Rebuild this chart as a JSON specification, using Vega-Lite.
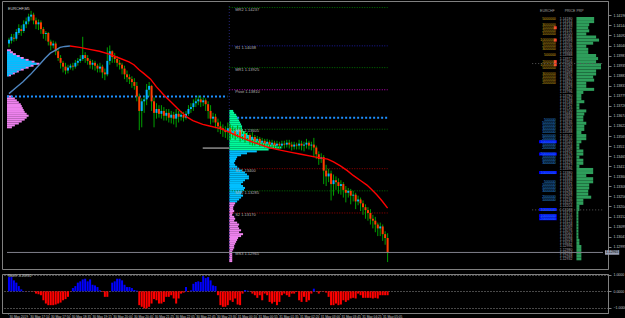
{
"$schema":"https://vega.github.io/schema/vega-lite/v6.json",
"background":"#000000",
"padding":{"left":1,"top":0,"right":0,"bottom":0},
"spacing":2,
"config":{"font":"Liberation Sans","view":{"stroke":"#808080","strokeWidth":1},"axis":{"labelFont":"Liberation Sans","labelFontSize":3.5,"labelColor":"#c8c8c8","domainColor":"#808080","tickColor":"#808080","tickSize":3,"labelPadding":2,"labelOverlap":false,"labelFlush":false,"grid":false}},
"datasets":{
"k":[
{"i":0,"o":1.1405,"h":1.1408,"l":1.1403,"c":1.1407},
{"i":1,"o":1.14065,"h":1.141,"l":1.1405,"c":1.14085},
{"i":2,"o":1.1408,"h":1.141,"l":1.1406,"c":1.14075},
{"i":3,"o":1.14075,"h":1.14125,"l":1.14065,"c":1.1411},
{"i":4,"o":1.14105,"h":1.1415,"l":1.14095,"c":1.1413},
{"i":5,"o":1.14125,"h":1.14145,"l":1.1409,"c":1.14115},
{"i":6,"o":1.14115,"h":1.1417,"l":1.14105,"c":1.1415},
{"i":7,"o":1.1415,"h":1.14185,"l":1.1413,"c":1.14165},
{"i":8,"o":1.14165,"h":1.14205,"l":1.1415,"c":1.1419},
{"i":9,"o":1.1419,"h":1.1422,"l":1.1417,"c":1.142},
{"i":10,"o":1.142,"h":1.1421,"l":1.1415,"c":1.1417},
{"i":11,"o":1.1417,"h":1.14185,"l":1.14125,"c":1.1415},
{"i":12,"o":1.1415,"h":1.14175,"l":1.1412,"c":1.1416},
{"i":13,"o":1.1416,"h":1.1417,"l":1.141,"c":1.14125},
{"i":14,"o":1.14125,"h":1.14135,"l":1.14075,"c":1.141},
{"i":15,"o":1.141,"h":1.14115,"l":1.14065,"c":1.14105},
{"i":16,"o":1.14105,"h":1.1411,"l":1.1404,"c":1.1406},
{"i":17,"o":1.1406,"h":1.1407,"l":1.14015,"c":1.1404},
{"i":18,"o":1.1404,"h":1.14065,"l":1.14025,"c":1.1405},
{"i":19,"o":1.1405,"h":1.1406,"l":1.1399,"c":1.1401},
{"i":20,"o":1.1401,"h":1.14025,"l":1.1396,"c":1.13975},
{"i":21,"o":1.13975,"h":1.1399,"l":1.1392,"c":1.1395},
{"i":22,"o":1.1395,"h":1.1396,"l":1.139,"c":1.1393},
{"i":23,"o":1.1393,"h":1.1395,"l":1.1389,"c":1.1391},
{"i":24,"o":1.1391,"h":1.1394,"l":1.13895,"c":1.13925},
{"i":25,"o":1.13925,"h":1.13945,"l":1.13915,"c":1.13935},
{"i":26,"o":1.13935,"h":1.1395,"l":1.1391,"c":1.1393},
{"i":27,"o":1.1393,"h":1.13965,"l":1.1392,"c":1.1395},
{"i":28,"o":1.1395,"h":1.13975,"l":1.13935,"c":1.1396},
{"i":29,"o":1.1396,"h":1.1399,"l":1.1395,"c":1.1397},
{"i":30,"o":1.1397,"h":1.14085,"l":1.1396,"c":1.1399},
{"i":31,"o":1.1399,"h":1.14005,"l":1.1395,"c":1.13975},
{"i":32,"o":1.13975,"h":1.1399,"l":1.1394,"c":1.1396},
{"i":33,"o":1.1396,"h":1.1397,"l":1.1392,"c":1.1394},
{"i":34,"o":1.1394,"h":1.13965,"l":1.13915,"c":1.1395},
{"i":35,"o":1.1395,"h":1.1396,"l":1.1391,"c":1.13935},
{"i":36,"o":1.13935,"h":1.13945,"l":1.139,"c":1.1392},
{"i":37,"o":1.1392,"h":1.1395,"l":1.139,"c":1.1393},
{"i":38,"o":1.1393,"h":1.1394,"l":1.1387,"c":1.139},
{"i":39,"o":1.139,"h":1.1392,"l":1.1386,"c":1.1389},
{"i":40,"o":1.1389,"h":1.1403,"l":1.1388,"c":1.1396},
{"i":41,"o":1.1396,"h":1.1404,"l":1.1394,"c":1.1401},
{"i":42,"o":1.1401,"h":1.14015,"l":1.1395,"c":1.1398},
{"i":43,"o":1.1398,"h":1.14,"l":1.1395,"c":1.1397},
{"i":44,"o":1.1397,"h":1.13985,"l":1.1393,"c":1.1395},
{"i":45,"o":1.1395,"h":1.13965,"l":1.13915,"c":1.1394},
{"i":46,"o":1.1394,"h":1.1395,"l":1.1389,"c":1.1392},
{"i":47,"o":1.1392,"h":1.13935,"l":1.13865,"c":1.1389},
{"i":48,"o":1.1389,"h":1.1391,"l":1.1385,"c":1.13875},
{"i":49,"o":1.13875,"h":1.1389,"l":1.1384,"c":1.13865},
{"i":50,"o":1.13865,"h":1.1388,"l":1.1382,"c":1.1385},
{"i":51,"o":1.1385,"h":1.1387,"l":1.1381,"c":1.1383},
{"i":52,"o":1.1383,"h":1.1385,"l":1.1375,"c":1.13775},
{"i":53,"o":1.13775,"h":1.1379,"l":1.136,"c":1.137},
{"i":54,"o":1.137,"h":1.13765,"l":1.13615,"c":1.1375},
{"i":55,"o":1.1375,"h":1.13775,"l":1.1369,"c":1.1376},
{"i":56,"o":1.1376,"h":1.1384,"l":1.1373,"c":1.1381},
{"i":57,"o":1.1381,"h":1.1385,"l":1.13775,"c":1.1383},
{"i":58,"o":1.1383,"h":1.13835,"l":1.137,"c":1.1375},
{"i":59,"o":1.1375,"h":1.1377,"l":1.13615,"c":1.1369},
{"i":60,"o":1.1369,"h":1.1374,"l":1.1366,"c":1.1371},
{"i":61,"o":1.1371,"h":1.1373,"l":1.13665,"c":1.13685},
{"i":62,"o":1.13685,"h":1.1373,"l":1.1366,"c":1.137},
{"i":63,"o":1.137,"h":1.1372,"l":1.1365,"c":1.13675},
{"i":64,"o":1.13675,"h":1.1371,"l":1.1365,"c":1.1369},
{"i":65,"o":1.1369,"h":1.1371,"l":1.1364,"c":1.13665},
{"i":66,"o":1.13665,"h":1.137,"l":1.13635,"c":1.1368},
{"i":67,"o":1.1368,"h":1.13695,"l":1.1363,"c":1.1366},
{"i":68,"o":1.1366,"h":1.1371,"l":1.13615,"c":1.13685},
{"i":69,"o":1.13685,"h":1.137,"l":1.1364,"c":1.1367},
{"i":70,"o":1.1367,"h":1.137,"l":1.1365,"c":1.1368},
{"i":71,"o":1.1368,"h":1.13695,"l":1.13645,"c":1.13665},
{"i":72,"o":1.13665,"h":1.137,"l":1.13655,"c":1.13685},
{"i":73,"o":1.13685,"h":1.1373,"l":1.13675,"c":1.1371},
{"i":74,"o":1.1371,"h":1.1374,"l":1.1369,"c":1.1372},
{"i":75,"o":1.1372,"h":1.1376,"l":1.137,"c":1.1374},
{"i":76,"o":1.1374,"h":1.1377,"l":1.1372,"c":1.1375},
{"i":77,"o":1.1375,"h":1.1378,"l":1.1373,"c":1.1376},
{"i":78,"o":1.1376,"h":1.13775,"l":1.1372,"c":1.13745},
{"i":79,"o":1.13745,"h":1.1377,"l":1.13725,"c":1.13755},
{"i":80,"o":1.13755,"h":1.13765,"l":1.137,"c":1.13735},
{"i":81,"o":1.13735,"h":1.1375,"l":1.1366,"c":1.137},
{"i":82,"o":1.137,"h":1.1373,"l":1.1363,"c":1.1366},
{"i":83,"o":1.1366,"h":1.1369,"l":1.1364,"c":1.1367},
{"i":84,"o":1.1367,"h":1.13685,"l":1.1361,"c":1.1364},
{"i":85,"o":1.1364,"h":1.1366,"l":1.1359,"c":1.1362},
{"i":86,"o":1.1362,"h":1.13645,"l":1.1358,"c":1.1361},
{"i":87,"o":1.1361,"h":1.1363,"l":1.13565,"c":1.136},
{"i":88,"o":1.136,"h":1.1362,"l":1.1356,"c":1.1359},
{"i":89,"o":1.1359,"h":1.1364,"l":1.1355,"c":1.1361},
{"i":90,"o":1.1361,"h":1.1363,"l":1.1355,"c":1.13585},
{"i":91,"o":1.13585,"h":1.1362,"l":1.1356,"c":1.13595},
{"i":92,"o":1.13595,"h":1.1361,"l":1.1355,"c":1.1358},
{"i":93,"o":1.1358,"h":1.13625,"l":1.1356,"c":1.136},
{"i":94,"o":1.136,"h":1.13615,"l":1.1354,"c":1.1357},
{"i":95,"o":1.1357,"h":1.136,"l":1.1355,"c":1.1358},
{"i":96,"o":1.1358,"h":1.13595,"l":1.13535,"c":1.1356},
{"i":97,"o":1.1356,"h":1.1359,"l":1.13545,"c":1.13575},
{"i":98,"o":1.13575,"h":1.13585,"l":1.13525,"c":1.1355},
{"i":99,"o":1.1355,"h":1.1359,"l":1.1352,"c":1.13565},
{"i":100,"o":1.13565,"h":1.13575,"l":1.1352,"c":1.13545},
{"i":101,"o":1.13545,"h":1.1357,"l":1.1353,"c":1.13555},
{"i":102,"o":1.13555,"h":1.13565,"l":1.13515,"c":1.13535},
{"i":103,"o":1.13535,"h":1.1356,"l":1.1352,"c":1.13545},
{"i":104,"o":1.13545,"h":1.13555,"l":1.1351,"c":1.1353},
{"i":105,"o":1.1353,"h":1.13555,"l":1.13515,"c":1.1354},
{"i":106,"o":1.1354,"h":1.1355,"l":1.1351,"c":1.13525},
{"i":107,"o":1.13525,"h":1.1355,"l":1.1351,"c":1.13535},
{"i":108,"o":1.13535,"h":1.13545,"l":1.13505,"c":1.1352},
{"i":109,"o":1.1352,"h":1.13545,"l":1.13505,"c":1.1353},
{"i":110,"o":1.1353,"h":1.1354,"l":1.135,"c":1.1352},
{"i":111,"o":1.1352,"h":1.13545,"l":1.13505,"c":1.1353},
{"i":112,"o":1.1353,"h":1.13545,"l":1.13505,"c":1.13525},
{"i":113,"o":1.13525,"h":1.1355,"l":1.1351,"c":1.13535},
{"i":114,"o":1.13535,"h":1.1355,"l":1.13505,"c":1.13525},
{"i":115,"o":1.13525,"h":1.1354,"l":1.13495,"c":1.13515},
{"i":116,"o":1.13515,"h":1.1354,"l":1.135,"c":1.13525},
{"i":117,"o":1.13525,"h":1.13535,"l":1.135,"c":1.1352},
{"i":118,"o":1.1352,"h":1.1355,"l":1.135,"c":1.1353},
{"i":119,"o":1.1353,"h":1.13545,"l":1.13495,"c":1.1352},
{"i":120,"o":1.1352,"h":1.1354,"l":1.1349,"c":1.13525},
{"i":121,"o":1.13525,"h":1.13555,"l":1.13505,"c":1.13535},
{"i":122,"o":1.13535,"h":1.13545,"l":1.135,"c":1.1352},
{"i":123,"o":1.1352,"h":1.1354,"l":1.13495,"c":1.13525},
{"i":124,"o":1.13525,"h":1.1356,"l":1.1346,"c":1.1351},
{"i":125,"o":1.1351,"h":1.1352,"l":1.1345,"c":1.13475},
{"i":126,"o":1.13475,"h":1.1349,"l":1.1342,"c":1.1345},
{"i":127,"o":1.1345,"h":1.1348,"l":1.1343,"c":1.1346},
{"i":128,"o":1.1346,"h":1.1347,"l":1.1332,"c":1.1339},
{"i":129,"o":1.1339,"h":1.1342,"l":1.1331,"c":1.1336},
{"i":130,"o":1.1336,"h":1.134,"l":1.1333,"c":1.13375},
{"i":131,"o":1.13375,"h":1.1339,"l":1.13235,"c":1.1332},
{"i":132,"o":1.1332,"h":1.1337,"l":1.1326,"c":1.1334},
{"i":133,"o":1.1334,"h":1.1336,"l":1.1329,"c":1.1333},
{"i":134,"o":1.1333,"h":1.1335,"l":1.1327,"c":1.1331},
{"i":135,"o":1.1331,"h":1.1334,"l":1.13265,"c":1.1332},
{"i":136,"o":1.1332,"h":1.1333,"l":1.1325,"c":1.1329},
{"i":137,"o":1.1329,"h":1.1331,"l":1.13225,"c":1.13275},
{"i":138,"o":1.13275,"h":1.133,"l":1.1325,"c":1.13285},
{"i":139,"o":1.13285,"h":1.13295,"l":1.13215,"c":1.1326},
{"i":140,"o":1.1326,"h":1.13285,"l":1.1323,"c":1.13265},
{"i":141,"o":1.13265,"h":1.13275,"l":1.1319,"c":1.1323},
{"i":142,"o":1.1323,"h":1.1326,"l":1.1321,"c":1.1324},
{"i":143,"o":1.1324,"h":1.1325,"l":1.1318,"c":1.1322},
{"i":144,"o":1.1322,"h":1.13235,"l":1.1316,"c":1.132},
{"i":145,"o":1.132,"h":1.13215,"l":1.1314,"c":1.13185},
{"i":146,"o":1.13185,"h":1.132,"l":1.1313,"c":1.1317},
{"i":147,"o":1.1317,"h":1.1319,"l":1.1311,"c":1.1314},
{"i":148,"o":1.1314,"h":1.1316,"l":1.1309,"c":1.1313},
{"i":149,"o":1.1313,"h":1.1315,"l":1.1307,"c":1.1311},
{"i":150,"o":1.1311,"h":1.1312,"l":1.1305,"c":1.1309},
{"i":151,"o":1.1309,"h":1.1312,"l":1.1305,"c":1.131},
{"i":152,"o":1.131,"h":1.1311,"l":1.13025,"c":1.1306},
{"i":153,"o":1.1306,"h":1.13075,"l":1.13005,"c":1.1304},
{"i":154,"o":1.1304,"h":1.13065,"l":1.12915,"c":1.12965}
],
"h":[
{"i":0,"v":0.87},{"i":1,"v":0.87},{"i":2,"v":0.67},{"i":3,"v":0.53},{"i":4,"v":0.32},{"i":5,"v":0.12},{"i":6,"v":0.02},{"i":7,"v":-0.01},{"i":8,"v":0.01},{"i":9,"v":-0.01},
{"i":10,"v":-0.02},{"i":11,"v":-0.14},{"i":12,"v":-0.18},{"i":13,"v":-0.24},{"i":14,"v":-0.55},{"i":15,"v":-0.75},{"i":16,"v":-0.85},{"i":17,"v":-0.85},{"i":18,"v":-0.85},{"i":19,"v":-0.81},
{"i":20,"v":-0.75},{"i":21,"v":-0.69},{"i":22,"v":-0.55},{"i":23,"v":-0.48},{"i":24,"v":-0.34},{"i":25,"v":-0.02},{"i":26,"v":0.2},{"i":27,"v":0.32},{"i":28,"v":0.53},{"i":29,"v":0.61},
{"i":30,"v":0.73},{"i":31,"v":0.77},{"i":32,"v":0.61},{"i":33,"v":0.73},{"i":34,"v":0.4},{"i":35,"v":0.36},{"i":36,"v":0.26},{"i":37,"v":0.06},{"i":38,"v":-0.04},{"i":39,"v":-0.34},
{"i":40,"v":-0.34},{"i":41,"v":0.0},{"i":42,"v":0.53},{"i":43,"v":0.61},{"i":44,"v":0.77},{"i":45,"v":0.77},{"i":46,"v":0.67},{"i":47,"v":0.4},{"i":48,"v":0.26},{"i":49,"v":0.26},
{"i":50,"v":0.2},{"i":51,"v":0.08},{"i":52,"v":0.04},{"i":53,"v":-0.85},{"i":54,"v":-0.95},{"i":55,"v":-1.05},{"i":56,"v":-1.05},{"i":57,"v":-0.95},{"i":58,"v":-0.75},{"i":59,"v":-0.48},
{"i":60,"v":-0.55},{"i":61,"v":-0.75},{"i":62,"v":-0.75},{"i":63,"v":-0.65},{"i":64,"v":-0.34},{"i":65,"v":-0.34},{"i":66,"v":-0.24},{"i":67,"v":-0.44},{"i":68,"v":-0.75},{"i":69,"v":-0.44},
{"i":70,"v":-0.14},{"i":71,"v":-0.08},{"i":72,"v":0.26},{"i":73,"v":-0.04},{"i":74,"v":0.06},{"i":75,"v":0.46},{"i":76,"v":0.57},{"i":77,"v":0.61},{"i":78,"v":0.57},{"i":79,"v":0.93},
{"i":80,"v":0.81},{"i":81,"v":0.87},{"i":82,"v":0.67},{"i":83,"v":0.36},{"i":84,"v":0.32},{"i":85,"v":-0.24},{"i":86,"v":-0.85},{"i":87,"v":-0.95},{"i":88,"v":-0.95},{"i":89,"v":-0.85},
{"i":90,"v":-0.55},{"i":91,"v":-0.65},{"i":92,"v":-0.44},{"i":93,"v":-0.81},{"i":94,"v":-0.85},{"i":95,"v":-0.14},{"i":96,"v":0.08},{"i":97,"v":0.04},{"i":98,"v":-0.02},{"i":99,"v":-0.14},
{"i":100,"v":-0.24},{"i":101,"v":-0.4},{"i":102,"v":-0.24},{"i":103,"v":-0.55},{"i":104,"v":-0.14},{"i":105,"v":-0.24},{"i":106,"v":-0.65},{"i":107,"v":-0.75},{"i":108,"v":-0.65},{"i":109,"v":-0.85},
{"i":110,"v":-0.65},{"i":111,"v":-0.24},{"i":112,"v":-0.14},{"i":113,"v":-0.24},{"i":114,"v":-0.34},{"i":115,"v":-0.14},{"i":116,"v":-0.14},{"i":117,"v":-0.04},{"i":118,"v":-0.55},{"i":119,"v":-0.65},
{"i":120,"v":-0.34},{"i":121,"v":-0.65},{"i":122,"v":-0.55},{"i":123,"v":-0.14},{"i":124,"v":0.16},{"i":125,"v":-0.02},{"i":126,"v":-0.14},{"i":127,"v":-0.02},{"i":128,"v":-0.02},{"i":129,"v":-0.08},
{"i":130,"v":-0.34},{"i":131,"v":-0.85},{"i":132,"v":-0.85},{"i":133,"v":-0.75},{"i":134,"v":-0.85},{"i":135,"v":-0.81},{"i":136,"v":-0.55},{"i":137,"v":-0.65},{"i":138,"v":-0.55},{"i":139,"v":-0.44},
{"i":140,"v":-0.4},{"i":141,"v":-0.44},{"i":142,"v":-0.14},{"i":143,"v":-0.24},{"i":144,"v":-0.4},{"i":145,"v":-0.4},{"i":146,"v":-0.4},{"i":147,"v":-0.4},{"i":148,"v":-0.44},{"i":149,"v":-0.4},
{"i":150,"v":-0.44},{"i":151,"v":-0.24},{"i":152,"v":-0.24},{"i":153,"v":-0.24},{"i":154,"v":-0.24}
],
"ma":[
{"s":"u","i":0,"m":1.1379},{"s":"u","i":2.8,"m":1.1382},{"s":"u","i":5.6,"m":1.1385},{"s":"u","i":8.8,"m":1.1389},{"s":"u","i":12,"m":1.13935},{"s":"u","i":14.8,"m":1.13975},{"s":"u","i":16.8,"m":1.14},{"s":"u","i":18.8,"m":1.14015},{"s":"u","i":20.8,"m":1.1403},{"s":"u","i":22.8,"m":1.14035},{"s":"u","i":24.8,"m":1.14037},
{"s":"d","i":24.8,"m":1.14037},{"s":"d","i":28.8,"m":1.1403},{"s":"d","i":32.8,"m":1.1402},{"s":"d","i":36.8,"m":1.1401},{"s":"d","i":40.8,"m":1.13995},{"s":"d","i":44.8,"m":1.13975},{"s":"d","i":48.8,"m":1.13955},{"s":"d","i":50.8,"m":1.1394},{"s":"d","i":52.8,"m":1.13915},{"s":"d","i":54.8,"m":1.13895},{"s":"d","i":57.6,"m":1.13865},{"s":"d","i":60,"m":1.13825},{"s":"d","i":62.8,"m":1.13785},{"s":"d","i":65.6,"m":1.1375},{"s":"d","i":69.6,"m":1.137},{"s":"d","i":72.8,"m":1.13665},{"s":"d","i":74.8,"m":1.1365},{"s":"d","i":78.8,"m":1.1363},{"s":"d","i":81.6,"m":1.13622},{"s":"d","i":84.8,"m":1.13612},{"s":"d","i":86.8,"m":1.13605},{"s":"d","i":89.6,"m":1.1359},{"s":"d","i":92,"m":1.13575},{"s":"d","i":94.8,"m":1.1356},{"s":"d","i":98.8,"m":1.1354},{"s":"d","i":102.8,"m":1.13522},{"s":"d","i":105.6,"m":1.1351},{"s":"d","i":110.8,"m":1.13495},{"s":"d","i":114.8,"m":1.13485},{"s":"d","i":118.8,"m":1.13475},{"s":"d","i":124.8,"m":1.1346},{"s":"d","i":129.6,"m":1.1345},{"s":"d","i":132,"m":1.13435},{"s":"d","i":134.8,"m":1.13415},{"s":"d","i":137.6,"m":1.1339},{"s":"d","i":140,"m":1.13365},{"s":"d","i":142.8,"m":1.1334},{"s":"d","i":145.6,"m":1.13315},{"s":"d","i":147.6,"m":1.1329},{"s":"d","i":149.6,"m":1.13265},{"s":"d","i":151.6,"m":1.13235},{"s":"d","i":154,"m":1.13195}
],
"pf":[
{"g":"L","c":"pink","p":1.14015,"v":1.6},{"g":"L","c":"pink","p":1.14005,"v":2.4},{"g":"L","c":"pink","p":1.13995,"v":3.6},{"g":"L","c":"pink","p":1.13985,"v":5.2},{"g":"L","c":"pink","p":1.13975,"v":6.8},{"g":"L","c":"pink","p":1.13965,"v":8.8},{"g":"L","c":"pink","p":1.13955,"v":11.2},{"g":"L","c":"pink","p":1.13945,"v":13.2},{"g":"L","c":"pink","p":1.13935,"v":10.8},{"g":"L","c":"pink","p":1.13925,"v":8.8},{"g":"L","c":"pink","p":1.13915,"v":6.8},{"g":"L","c":"pink","p":1.13905,"v":4.8},{"g":"L","c":"pink","p":1.13895,"v":3.2},{"g":"L","c":"pink","p":1.13885,"v":1.6},
{"g":"L","c":"pink","p":1.13775,"v":2},{"g":"L","c":"pink","p":1.13765,"v":3.2},{"g":"L","c":"pink","p":1.13755,"v":4},{"g":"L","c":"pink","p":1.13745,"v":4.8},{"g":"L","c":"pink","p":1.13735,"v":5.6},{"g":"L","c":"pink","p":1.13725,"v":6},{"g":"L","c":"pink","p":1.13715,"v":6.4},{"g":"L","c":"pink","p":1.13705,"v":6.8},{"g":"L","c":"pink","p":1.13695,"v":7.2},{"g":"L","c":"pink","p":1.13685,"v":8},{"g":"L","c":"pink","p":1.13675,"v":8.8},{"g":"L","c":"pink","p":1.13665,"v":8},{"g":"L","c":"pink","p":1.13655,"v":7.2},{"g":"L","c":"pink","p":1.13645,"v":6},{"g":"L","c":"pink","p":1.13635,"v":4.8},{"g":"L","c":"pink","p":1.13625,"v":3.2},{"g":"L","c":"pink","p":1.13615,"v":2},
{"g":"L","c":"cyan","p":1.14005,"v":1.2},{"g":"L","c":"cyan","p":1.13995,"v":2.4},{"g":"L","c":"cyan","p":1.13985,"v":4},{"g":"L","c":"cyan","p":1.13975,"v":5.6},{"g":"L","c":"cyan","p":1.13965,"v":7.6},{"g":"L","c":"cyan","p":1.13955,"v":10},{"g":"L","c":"cyan","p":1.13945,"v":12},{"g":"L","c":"cyan","p":1.13935,"v":9.6},{"g":"L","c":"cyan","p":1.13925,"v":7.6},{"g":"L","c":"cyan","p":1.13915,"v":5.6},{"g":"L","c":"cyan","p":1.13905,"v":4},{"g":"L","c":"cyan","p":1.13895,"v":2.4},{"g":"L","c":"cyan","p":1.13885,"v":0.8},
{"g":"M","c":"green","p":1.137,"v":1.6},{"g":"M","c":"green","p":1.1369,"v":2},{"g":"M","c":"green","p":1.1368,"v":2.8},{"g":"M","c":"green","p":1.1367,"v":3.2},{"g":"M","c":"green","p":1.1366,"v":3.6},{"g":"M","c":"green","p":1.1365,"v":4},{"g":"M","c":"green","p":1.1364,"v":4.4},{"g":"M","c":"green","p":1.1363,"v":4.8},{"g":"M","c":"green","p":1.1362,"v":5.2},{"g":"M","c":"green","p":1.1361,"v":5.2},{"g":"M","c":"green","p":1.136,"v":5.6},{"g":"M","c":"green","p":1.1359,"v":6.4},{"g":"M","c":"green","p":1.1358,"v":7.2},{"g":"M","c":"green","p":1.1357,"v":8},{"g":"M","c":"green","p":1.1356,"v":9.6},{"g":"M","c":"green","p":1.1355,"v":11.2},{"g":"M","c":"green","p":1.1354,"v":13.2},{"g":"M","c":"green","p":1.1353,"v":16},{"g":"M","c":"green","p":1.1352,"v":19.2},{"g":"M","c":"green","p":1.1351,"v":21.2},{"g":"M","c":"green","p":1.135,"v":16},
{"g":"M","c":"cyan","p":1.1349,"v":11.2},{"g":"M","c":"cyan","p":1.1348,"v":7.2},{"g":"M","c":"cyan","p":1.1347,"v":4.8},{"g":"M","c":"cyan","p":1.1346,"v":3.2},{"g":"M","c":"cyan","p":1.1345,"v":2.8},{"g":"M","c":"cyan","p":1.1344,"v":2.4},{"g":"M","c":"cyan","p":1.1343,"v":2},{"g":"M","c":"cyan","p":1.1342,"v":2.4},{"g":"M","c":"cyan","p":1.1341,"v":3.2},{"g":"M","c":"cyan","p":1.134,"v":4},{"g":"M","c":"cyan","p":1.1339,"v":5.2},{"g":"M","c":"cyan","p":1.1338,"v":6.4},{"g":"M","c":"cyan","p":1.1337,"v":7.2},{"g":"M","c":"cyan","p":1.1336,"v":8},{"g":"M","c":"cyan","p":1.1335,"v":8},{"g":"M","c":"cyan","p":1.1334,"v":6.4},{"g":"M","c":"cyan","p":1.1333,"v":5.6},{"g":"M","c":"cyan","p":1.1332,"v":4.8},{"g":"M","c":"cyan","p":1.1331,"v":5.6},{"g":"M","c":"cyan","p":1.133,"v":6.4},{"g":"M","c":"cyan","p":1.1329,"v":6},{"g":"M","c":"cyan","p":1.1328,"v":5.2},{"g":"M","c":"cyan","p":1.1327,"v":4.8},{"g":"M","c":"cyan","p":1.1326,"v":5.6},{"g":"M","c":"cyan","p":1.1325,"v":4.8},{"g":"M","c":"cyan","p":1.1324,"v":4},{"g":"M","c":"cyan","p":1.1323,"v":3.2},
{"g":"M","c":"pink","p":1.1322,"v":2.4},{"g":"M","c":"pink","p":1.1321,"v":2},{"g":"M","c":"pink","p":1.132,"v":1.6},{"g":"M","c":"pink","p":1.1319,"v":1.6},{"g":"M","c":"pink","p":1.1318,"v":2},{"g":"M","c":"pink","p":1.1317,"v":1.6},{"g":"M","c":"pink","p":1.1316,"v":1.2},{"g":"M","c":"pink","p":1.1315,"v":2},{"g":"M","c":"pink","p":1.1314,"v":2.4},{"g":"M","c":"pink","p":1.1313,"v":2},{"g":"M","c":"pink","p":1.1312,"v":3.2},{"g":"M","c":"pink","p":1.1311,"v":4},{"g":"M","c":"pink","p":1.131,"v":3.6},{"g":"M","c":"pink","p":1.1309,"v":4},{"g":"M","c":"pink","p":1.1308,"v":4.8},{"g":"M","c":"pink","p":1.1307,"v":4},{"g":"M","c":"pink","p":1.1306,"v":5.6},{"g":"M","c":"pink","p":1.1305,"v":4.8},{"g":"M","c":"pink","p":1.1304,"v":3.6},{"g":"M","c":"pink","p":1.1303,"v":3.2},{"g":"M","c":"pink","p":1.1302,"v":2.8},{"g":"M","c":"pink","p":1.1301,"v":2.4},{"g":"M","c":"pink","p":1.13,"v":2},{"g":"M","c":"pink","p":1.1299,"v":2},{"g":"M","c":"pink","p":1.1298,"v":1.6},{"g":"M","c":"pink","p":1.1297,"v":1.2},{"g":"M","c":"pink","p":1.1296,"v":1.2},{"g":"M","c":"pink","p":1.1295,"v":1.2},{"g":"M","c":"pink","p":1.1294,"v":1.2},{"g":"M","c":"pink","p":1.1293,"v":1.2},{"g":"M","c":"pink","p":1.1292,"v":1.2}
],
"dom":[
{"p":1.1418,"v":7.2,"q":"5000000","s":"a"},{"p":1.14164,"v":7.2},{"p":1.14148,"v":5.2,"q":"3000000","s":"a"},{"p":1.14132,"v":4.8,"q":"1000000","s":"a","r":1},{"p":1.14116,"v":5.2,"q":"2000000","s":"a"},{"p":1.141,"v":4,"q":"1000000","s":"a"},{"p":1.14084,"v":8},{"p":1.14068,"v":9.2,"q":"10000000","s":"a","r":1},{"p":1.14052,"v":6.8,"q":"5000000","s":"a"},{"p":1.14036,"v":4,"q":"2000000","s":"a"},
{"p":1.1402,"v":4.8,"q":"3000000","s":"a"},{"p":1.14004,"v":4.8},{"p":1.13988,"v":8,"q":"500000","s":"a"},{"p":1.13972,"v":8.8},{"p":1.13956,"v":8,"q":"2000000","s":"a","r":1},{"p":1.1394,"v":10,"q":"10000000","s":"a","r":1},{"p":1.13924,"v":10,"q":"5000000","s":"a"},{"p":1.13908,"v":8},{"p":1.13892,"v":8,"q":"3000000","s":"a"},{"p":1.13876,"v":6.8,"q":"1000000","s":"a"},
{"p":1.1386,"v":7.2,"q":"5000000","s":"a"},{"p":1.13844,"v":4,"q":"2000000","s":"a"},{"p":1.13828,"v":4},{"p":1.13812,"v":7.2},{"p":1.13796,"v":2.8},{"p":1.1378,"v":2},{"p":1.13764,"v":2},{"p":1.13748,"v":3.2},{"p":1.13732,"v":1.2},{"p":1.13716,"v":1.2},
{"p":1.137,"v":4},{"p":1.13684,"v":3.2},{"p":1.13668,"v":2.8},{"p":1.13652,"v":2.8,"q":"500000","s":"b"},{"p":1.13636,"v":4,"q":"5000000","s":"b"},{"p":1.1362,"v":3.2,"q":"1000000","s":"b"},{"p":1.13604,"v":3.2,"q":"3000000","s":"b"},{"p":1.13588,"v":2,"q":"1000000","s":"b"},{"p":1.13572,"v":4,"q":"5000000","s":"b"},{"p":1.13556,"v":4,"q":"2000000","s":"b"},
{"p":1.1354,"v":2,"q":"10000000","s":"b","hl":1},{"p":1.13524,"v":1.2,"q":"1000000","s":"b"},{"p":1.13508,"v":1.2,"q":"2000000","s":"b"},{"p":1.13492,"v":2.8},{"p":1.13476,"v":2.8,"q":"20000000","s":"b","hl":1},{"p":1.1346,"v":1.2,"q":"1000000","s":"b"},{"p":1.13444,"v":2.8,"q":"5000000","s":"b"},{"p":1.13428,"v":2.8,"q":"3000000","s":"b"},{"p":1.13412,"v":1.2},{"p":1.13396,"v":6.8},
{"p":1.1338,"v":6.8,"q":"10000000","s":"b","hl":1},{"p":1.13364,"v":4},{"p":1.13348,"v":6.8},{"p":1.13332,"v":6.8,"q":"500000","s":"b"},{"p":1.13316,"v":5.2,"q":"1000000","s":"b"},{"p":1.133,"v":5.2,"q":"5000000","s":"b"},{"p":1.13284,"v":4.8,"q":"3000000","s":"b"},{"p":1.13268,"v":4.8},{"p":1.13252,"v":6,"q":"2000000","s":"b"},{"p":1.13236,"v":2.8,"q":"1000000","s":"b"},
{"p":1.1322,"v":2.8},{"p":1.13204,"v":1.2},{"p":1.13188,"v":1.2,"q":"10000000","s":"b","hl":1},{"p":1.13172,"v":0.8},{"p":1.13156,"v":0.8,"q":"10000000","s":"b","hl":1},{"p":1.1314,"v":0.8,"q":"20000000","s":"b","hl":1},{"p":1.13124,"v":0.8},{"p":1.13108,"v":0.8},{"p":1.13092,"v":0.8},{"p":1.13076,"v":0.8},
{"p":1.1306,"v":0.8},{"p":1.13044,"v":0.8},{"p":1.13028,"v":1.2},{"p":1.13012,"v":1.2},{"p":1.12996,"v":2},{"p":1.1298,"v":2},{"p":1.12964,"v":2},{"p":1.12948,"v":2},{"p":1.12932,"v":2}
],
"lv":[
{"n":"MR2","p":1.14237,"t":"MR2 1.14237"},{"n":"R1","p":1.14038,"t":"R1 1.14038"},{"n":"MR1","p":1.13925,"t":"MR1 1.13925"},{"n":"Pivot","p":1.1381,"t":"Pivot 1.13810"},{"n":"MS1","p":1.13605,"t":"MS1 1.13605"},{"n":"S1","p":1.134,"t":"S1 1.13400"},{"n":"MS2","p":1.13285,"t":"MS2 1.13285"},{"n":"S2","p":1.1317,"t":"S2 1.13170"},{"n":"MS3","p":1.12965,"t":"MS3 1.12965"}
],
"ln":[
{"k":"blue","a":-0.8,"b":88.8,"p":1.13775},{"k":"blue","a":92.8,"b":154,"p":1.13665},{"k":"gray","a":-0.8,"b":241.6,"p":1.12965},{"k":"poc","a":78.8,"b":89.6,"p":1.13507},{"k":"dot","a":212.8,"b":241.6,"p":1.13946},{"k":"dot","a":212.8,"b":241.6,"p":1.13186}
]
},
"resolve":{"scale":{"x":"independent","y":"independent"}},
"vconcat":[
{
"width":606,"height":268,
"resolve":{"scale":{"color":"independent"}},
"layer":[
{"data":{"name":"pf"},"transform":[{"calculate":"datum.g == 'L' ? -0.8 : 89.6","as":"s"},{"calculate":"datum.s + datum.v","as":"e"}],
 "mark":{"type":"bar","height":2},
 "encoding":{"x":{"field":"s","type":"quantitative","scale":{"domain":[-0.8,241.6],"nice":false,"zero":false},"axis":null},"x2":{"field":"e"},
 "y":{"field":"p","type":"quantitative","scale":{"domain":[1.12905,1.14245],"nice":false,"zero":false},"axis":{"orient":"right","values":[1.141965,1.1414425,1.14092,1.1403975,1.139875,1.1393525,1.13883,1.1383075,1.137785,1.1372625,1.13674,1.1362175,1.135695,1.1351725,1.13465,1.1341275,1.133605,1.1330825,1.13256,1.1320375,1.131515,1.1309925,1.13047,1.1299475],"format":".5f","title":null}},
 "color":{"field":"c","type":"nominal","scale":{"domain":["pink","cyan","green"],"range":["#EE82EE","#00BFFF","#00FA9A"]},"legend":null}}},
{"data":{"name":"dom"},"transform":[{"calculate":"230.8","as":"s"},{"calculate":"230.8 + datum.v","as":"e"}],
 "mark":{"type":"bar","height":3,"color":"#2E9E5B"},
 "encoding":{"x":{"field":"s","type":"quantitative","scale":{"domain":[-0.8,241.6],"nice":false,"zero":false},"axis":null},"x2":{"field":"e"},
 "y":{"field":"p","type":"quantitative","scale":{"domain":[1.12905,1.14245],"nice":false,"zero":false},"axis":{"orient":"right","values":[1.141965,1.1414425,1.14092,1.1403975,1.139875,1.1393525,1.13883,1.1383075,1.137785,1.1372625,1.13674,1.1362175,1.135695,1.1351725,1.13465,1.1341275,1.133605,1.1330825,1.13256,1.1320375,1.131515,1.1309925,1.13047,1.1299475],"format":".5f","title":null}}}},
{"data":{"name":"dom"},"transform":[{"filter":"datum.hl"}],
 "mark":{"type":"bar","height":3,"color":"#0000FF"},
 "encoding":{"x":{"datum":215.6,"type":"quantitative","scale":{"domain":[-0.8,241.6],"nice":false,"zero":false},"axis":null},"x2":{"datum":222.8},
 "y":{"field":"p","type":"quantitative","scale":{"domain":[1.12905,1.14245],"nice":false,"zero":false},"axis":{"orient":"right","values":[1.141965,1.1414425,1.14092,1.1403975,1.139875,1.1393525,1.13883,1.1383075,1.137785,1.1372625,1.13674,1.1362175,1.135695,1.1351725,1.13465,1.1341275,1.133605,1.1330825,1.13256,1.1320375,1.131515,1.1309925,1.13047,1.1299475],"format":".5f","title":null}}}},
{"data":{"name":"dom"},"transform":[{"filter":"datum.r"}],
 "mark":{"type":"bar","height":3,"color":"#FF3030"},
 "encoding":{"x":{"datum":221.6,"type":"quantitative","scale":{"domain":[-0.8,241.6],"nice":false,"zero":false},"axis":null},"x2":{"datum":222.8},
 "y":{"field":"p","type":"quantitative","scale":{"domain":[1.12905,1.14245],"nice":false,"zero":false},"axis":{"orient":"right","values":[1.141965,1.1414425,1.14092,1.1403975,1.139875,1.1393525,1.13883,1.1383075,1.137785,1.1372625,1.13674,1.1362175,1.135695,1.1351725,1.13465,1.1341275,1.133605,1.1330825,1.13256,1.1320375,1.131515,1.1309925,1.13047,1.1299475],"format":".5f","title":null}}}},
{"data":{"name":"dom"},
 "mark":{"type":"text","align":"left","baseline":"middle","fontSize":3.5,"color":"#a8a8a8"},
 "encoding":{"x":{"datum":224,"type":"quantitative","scale":{"domain":[-0.8,241.6],"nice":false,"zero":false},"axis":null},
 "y":{"field":"p","type":"quantitative","scale":{"domain":[1.12905,1.14245],"nice":false,"zero":false},"axis":{"orient":"right","values":[1.141965,1.1414425,1.14092,1.1403975,1.139875,1.1393525,1.13883,1.1383075,1.137785,1.1372625,1.13674,1.1362175,1.135695,1.1351725,1.13465,1.1341275,1.133605,1.1330825,1.13256,1.1320375,1.131515,1.1309925,1.13047,1.1299475],"format":".5f","title":null}},
 "text":{"field":"p","type":"quantitative","format":".5f"}}},
{"data":{"name":"dom"},"transform":[{"filter":"datum.q"}],
 "mark":{"type":"text","align":"right","baseline":"middle","fontSize":3.5},
 "encoding":{"x":{"datum":222.4,"type":"quantitative","scale":{"domain":[-0.8,241.6],"nice":false,"zero":false},"axis":null},
 "y":{"field":"p","type":"quantitative","scale":{"domain":[1.12905,1.14245],"nice":false,"zero":false},"axis":{"orient":"right","values":[1.141965,1.1414425,1.14092,1.1403975,1.139875,1.1393525,1.13883,1.1383075,1.137785,1.1372625,1.13674,1.1362175,1.135695,1.1351725,1.13465,1.1341275,1.133605,1.1330825,1.13256,1.1320375,1.131515,1.1309925,1.13047,1.1299475],"format":".5f","title":null}},
 "text":{"field":"q"},
 "color":{"field":"s","type":"nominal","scale":{"domain":["a","b"],"range":["#D4A017","#2E9BE6"]},"legend":null}}},
{"data":{"name":"lv"},
 "mark":{"type":"rule","strokeDash":[1,1.5],"strokeWidth":1},
 "encoding":{"x":{"datum":89.6,"type":"quantitative","scale":{"domain":[-0.8,241.6],"nice":false,"zero":false},"axis":null},"x2":{"datum":154},
 "y":{"field":"p","type":"quantitative","scale":{"domain":[1.12905,1.14245],"nice":false,"zero":false},"axis":{"orient":"right","values":[1.141965,1.1414425,1.14092,1.1403975,1.139875,1.1393525,1.13883,1.1383075,1.137785,1.1372625,1.13674,1.1362175,1.135695,1.1351725,1.13465,1.1341275,1.133605,1.1330825,1.13256,1.1320375,1.131515,1.1309925,1.13047,1.1299475],"format":".5f","title":null}},
 "color":{"field":"n","type":"nominal","scale":{"domain":["MR2","R1","MR1","Pivot","MS1","S1","MS2","S2","MS3"],"range":["#007000","#1a1aa0","#007000","#C000C0","#007000","#9a0000","#007000","#9a0000","#007000"]},"legend":null}}},
{"data":{"name":"lv"},"transform":[{"filter":"datum.n == 'MR2'"}],
 "mark":{"type":"rule","color":"#26267a","strokeDash":[1,2],"strokeWidth":1},
 "encoding":{"x":{"datum":89.6,"type":"quantitative","scale":{"domain":[-0.8,241.6],"nice":false,"zero":false},"axis":null},
 "y":{"datum":1.14245,"type":"quantitative","scale":{"domain":[1.12905,1.14245],"nice":false,"zero":false},"axis":{"orient":"right","values":[1.141965,1.1414425,1.14092,1.1403975,1.139875,1.1393525,1.13883,1.1383075,1.137785,1.1372625,1.13674,1.1362175,1.135695,1.1351725,1.13465,1.1341275,1.133605,1.1330825,1.13256,1.1320375,1.131515,1.1309925,1.13047,1.1299475],"format":".5f","title":null}},"y2":{"datum":1.12925}}},
{"data":{"name":"ln"},"transform":[{"filter":"datum.k == 'blue'"}],
 "mark":{"type":"rule","color":"#1E90FF","strokeDash":[2,2],"strokeWidth":2},
 "encoding":{"x":{"field":"a","type":"quantitative","scale":{"domain":[-0.8,241.6],"nice":false,"zero":false},"axis":null},"x2":{"field":"b"},
 "y":{"field":"p","type":"quantitative","scale":{"domain":[1.12905,1.14245],"nice":false,"zero":false},"axis":{"orient":"right","values":[1.141965,1.1414425,1.14092,1.1403975,1.139875,1.1393525,1.13883,1.1383075,1.137785,1.1372625,1.13674,1.1362175,1.135695,1.1351725,1.13465,1.1341275,1.133605,1.1330825,1.13256,1.1320375,1.131515,1.1309925,1.13047,1.1299475],"format":".5f","title":null}}}},
{"data":{"name":"ln"},"transform":[{"filter":"datum.k == 'dot'"}],
 "mark":{"type":"rule","color":"#5a5a5a","strokeDash":[1,2],"strokeWidth":1},
 "encoding":{"x":{"field":"a","type":"quantitative","scale":{"domain":[-0.8,241.6],"nice":false,"zero":false},"axis":null},"x2":{"field":"b"},
 "y":{"field":"p","type":"quantitative","scale":{"domain":[1.12905,1.14245],"nice":false,"zero":false},"axis":{"orient":"right","values":[1.141965,1.1414425,1.14092,1.1403975,1.139875,1.1393525,1.13883,1.1383075,1.137785,1.1372625,1.13674,1.1362175,1.135695,1.1351725,1.13465,1.1341275,1.133605,1.1330825,1.13256,1.1320375,1.131515,1.1309925,1.13047,1.1299475],"format":".5f","title":null}}}},
{"data":{"name":"ln"},"transform":[{"filter":"datum.k == 'poc'"}],
 "mark":{"type":"rule","color":"#8c8c8c","strokeWidth":1.5},
 "encoding":{"x":{"field":"a","type":"quantitative","scale":{"domain":[-0.8,241.6],"nice":false,"zero":false},"axis":null},"x2":{"field":"b"},
 "y":{"field":"p","type":"quantitative","scale":{"domain":[1.12905,1.14245],"nice":false,"zero":false},"axis":{"orient":"right","values":[1.141965,1.1414425,1.14092,1.1403975,1.139875,1.1393525,1.13883,1.1383075,1.137785,1.1372625,1.13674,1.1362175,1.135695,1.1351725,1.13465,1.1341275,1.133605,1.1330825,1.13256,1.1320375,1.131515,1.1309925,1.13047,1.1299475],"format":".5f","title":null}}}},
{"data":{"name":"k"},
 "mark":{"type":"rule","color":"#00A000","strokeWidth":1},
 "encoding":{"x":{"field":"i","type":"quantitative","scale":{"domain":[-0.8,241.6],"nice":false,"zero":false},"axis":null},
 "y":{"field":"l","type":"quantitative","scale":{"domain":[1.12905,1.14245],"nice":false,"zero":false},"axis":{"orient":"right","values":[1.141965,1.1414425,1.14092,1.1403975,1.139875,1.1393525,1.13883,1.1383075,1.137785,1.1372625,1.13674,1.1362175,1.135695,1.1351725,1.13465,1.1341275,1.133605,1.1330825,1.13256,1.1320375,1.131515,1.1309925,1.13047,1.1299475],"format":".5f","title":null}},"y2":{"field":"h"}}},
{"data":{"name":"k"},
 "mark":{"type":"bar","width":2},
 "encoding":{"x":{"field":"i","type":"quantitative","scale":{"domain":[-0.8,241.6],"nice":false,"zero":false},"axis":null},
 "y":{"field":"o","type":"quantitative","scale":{"domain":[1.12905,1.14245],"nice":false,"zero":false},"axis":{"orient":"right","values":[1.141965,1.1414425,1.14092,1.1403975,1.139875,1.1393525,1.13883,1.1383075,1.137785,1.1372625,1.13674,1.1362175,1.135695,1.1351725,1.13465,1.1341275,1.133605,1.1330825,1.13256,1.1320375,1.131515,1.1309925,1.13047,1.1299475],"format":".5f","title":null}},"y2":{"field":"c"},
 "color":{"condition":{"test":"datum.c >= datum.o","value":"#00B4FF"},"value":"#FF3C00"}}},
{"data":{"name":"ln"},"transform":[{"filter":"datum.k == 'gray'"}],
 "mark":{"type":"rule","color":"#80808c","strokeWidth":1},
 "encoding":{"x":{"field":"a","type":"quantitative","scale":{"domain":[-0.8,241.6],"nice":false,"zero":false},"axis":null},"x2":{"field":"b"},
 "y":{"field":"p","type":"quantitative","scale":{"domain":[1.12905,1.14245],"nice":false,"zero":false},"axis":{"orient":"right","values":[1.141965,1.1414425,1.14092,1.1403975,1.139875,1.1393525,1.13883,1.1383075,1.137785,1.1372625,1.13674,1.1362175,1.135695,1.1351725,1.13465,1.1341275,1.133605,1.1330825,1.13256,1.1320375,1.131515,1.1309925,1.13047,1.1299475],"format":".5f","title":null}}}},
{"data":{"name":"ma"},
 "mark":{"type":"line","strokeWidth":1.4},
 "encoding":{"x":{"field":"i","type":"quantitative","scale":{"domain":[-0.8,241.6],"nice":false,"zero":false},"axis":null},
 "y":{"field":"m","type":"quantitative","scale":{"domain":[1.12905,1.14245],"nice":false,"zero":false},"axis":{"orient":"right","values":[1.141965,1.1414425,1.14092,1.1403975,1.139875,1.1393525,1.13883,1.1383075,1.137785,1.1372625,1.13674,1.1362175,1.135695,1.1351725,1.13465,1.1341275,1.133605,1.1330825,1.13256,1.1320375,1.131515,1.1309925,1.13047,1.1299475],"format":".5f","title":null}},
 "color":{"field":"s","type":"nominal","scale":{"domain":["u","d"],"range":["#4F86C0","#FF0000"]},"legend":null}}},
{"data":{"name":"lv"},
 "mark":{"type":"text","align":"left","baseline":"middle","fontSize":4,"dy":2,"color":"#b4b4b4"},
 "encoding":{"x":{"datum":92,"type":"quantitative","scale":{"domain":[-0.8,241.6],"nice":false,"zero":false},"axis":null},
 "y":{"field":"p","type":"quantitative","scale":{"domain":[1.12905,1.14245],"nice":false,"zero":false},"axis":{"orient":"right","values":[1.141965,1.1414425,1.14092,1.1403975,1.139875,1.1393525,1.13883,1.1383075,1.137785,1.1372625,1.13674,1.1362175,1.135695,1.1351725,1.13465,1.1341275,1.133605,1.1330825,1.13256,1.1320375,1.131515,1.1309925,1.13047,1.1299475],"format":".5f","title":null}},
 "text":{"field":"t"}}},
{"data":{"values":[{"t":"EURCHF,M5"}]},
 "mark":{"type":"text","align":"left","baseline":"middle","fontSize":3.8,"color":"#d0d0d0"},
 "encoding":{"x":{"datum":-0.4,"type":"quantitative","scale":{"domain":[-0.8,241.6],"nice":false,"zero":false},"axis":null},
 "y":{"datum":1.14228,"type":"quantitative","scale":{"domain":[1.12905,1.14245],"nice":false,"zero":false},"axis":{"orient":"right","values":[1.141965,1.1414425,1.14092,1.1403975,1.139875,1.1393525,1.13883,1.1383075,1.137785,1.1372625,1.13674,1.1362175,1.135695,1.1351725,1.13465,1.1341275,1.133605,1.1330825,1.13256,1.1320375,1.131515,1.1309925,1.13047,1.1299475],"format":".5f","title":null}},
 "text":{"field":"t"}}},
{"data":{"values":[{"t":"EURCHF"}]},
 "mark":{"type":"text","align":"left","baseline":"middle","fontSize":3.5,"color":"#a0a0a0"},
 "encoding":{"x":{"datum":216,"type":"quantitative","scale":{"domain":[-0.8,241.6],"nice":false,"zero":false},"axis":null},
 "y":{"datum":1.142165,"type":"quantitative","scale":{"domain":[1.12905,1.14245],"nice":false,"zero":false},"axis":{"orient":"right","values":[1.141965,1.1414425,1.14092,1.1403975,1.139875,1.1393525,1.13883,1.1383075,1.137785,1.1372625,1.13674,1.1362175,1.135695,1.1351725,1.13465,1.1341275,1.133605,1.1330825,1.13256,1.1320375,1.131515,1.1309925,1.13047,1.1299475],"format":".5f","title":null}},
 "text":{"field":"t"}}},
{"data":{"values":[{"t":"PRICE"}]},
 "mark":{"type":"text","align":"left","baseline":"middle","fontSize":3.5,"color":"#a0a0a0"},
 "encoding":{"x":{"datum":226,"type":"quantitative","scale":{"domain":[-0.8,241.6],"nice":false,"zero":false},"axis":null},
 "y":{"datum":1.142165,"type":"quantitative","scale":{"domain":[1.12905,1.14245],"nice":false,"zero":false},"axis":{"orient":"right","values":[1.141965,1.1414425,1.14092,1.1403975,1.139875,1.1393525,1.13883,1.1383075,1.137785,1.1372625,1.13674,1.1362175,1.135695,1.1351725,1.13465,1.1341275,1.133605,1.1330825,1.13256,1.1320375,1.131515,1.1309925,1.13047,1.1299475],"format":".5f","title":null}},
 "text":{"field":"t"}}},
{"data":{"values":[{"t":"PRP"}]},
 "mark":{"type":"text","align":"left","baseline":"middle","fontSize":3.5,"color":"#a0a0a0"},
 "encoding":{"x":{"datum":230.8,"type":"quantitative","scale":{"domain":[-0.8,241.6],"nice":false,"zero":false},"axis":null},
 "y":{"datum":1.142165,"type":"quantitative","scale":{"domain":[1.12905,1.14245],"nice":false,"zero":false},"axis":{"orient":"right","values":[1.141965,1.1414425,1.14092,1.1403975,1.139875,1.1393525,1.13883,1.1383075,1.137785,1.1372625,1.13674,1.1362175,1.135695,1.1351725,1.13465,1.1341275,1.133605,1.1330825,1.13256,1.1320375,1.131515,1.1309925,1.13047,1.1299475],"format":".5f","title":null}},
 "text":{"field":"t"}}},
{"data":{"values":[{}]},
 "mark":{"type":"rect","color":"#9aa0b4"},
 "encoding":{"x":{"datum":242.4,"type":"quantitative","scale":{"domain":[-0.8,241.6],"nice":false,"zero":false},"axis":null},"x2":{"datum":248.2},
 "y":{"datum":1.12977,"type":"quantitative","scale":{"domain":[1.12905,1.14245],"nice":false,"zero":false},"axis":{"orient":"right","values":[1.141965,1.1414425,1.14092,1.1403975,1.139875,1.1393525,1.13883,1.1383075,1.137785,1.1372625,1.13674,1.1362175,1.135695,1.1351725,1.13465,1.1341275,1.133605,1.1330825,1.13256,1.1320375,1.131515,1.1309925,1.13047,1.1299475],"format":".5f","title":null}},"y2":{"datum":1.12953}}},
{"data":{"values":[{"t":"1.12965"}]},
 "mark":{"type":"text","align":"center","baseline":"middle","fontSize":3.5,"color":"#000000"},
 "encoding":{"x":{"datum":245.3,"type":"quantitative","scale":{"domain":[-0.8,241.6],"nice":false,"zero":false},"axis":null},
 "y":{"datum":1.12965,"type":"quantitative","scale":{"domain":[1.12905,1.14245],"nice":false,"zero":false},"axis":{"orient":"right","values":[1.141965,1.1414425,1.14092,1.1403975,1.139875,1.1393525,1.13883,1.1383075,1.137785,1.1372625,1.13674,1.1362175,1.135695,1.1351725,1.13465,1.1341275,1.133605,1.1330825,1.13256,1.1320375,1.131515,1.1309925,1.13047,1.1299475],"format":".5f","title":null}},
 "text":{"field":"t"}}}
]
},
{
"width":606,"height":39,
"layer":[
{"data":{"name":"h"},
 "mark":{"type":"bar","width":2},
 "encoding":{"x":{"field":"i","type":"quantitative","scale":{"domain":[-0.8,241.6],"nice":false,"zero":false},
  "axis":{"orient":"bottom","values":[-0.4,8.04,16.48,24.92,33.36,41.8,50.24,58.68,67.12,75.56,84,92.44,100.88,109.32,117.76,126.2,134.64,143.08,151.52],"labelExpr":"['30 May 2019','30 May 17:10','30 May 17:50','30 May 18:35','30 May 19:15','30 May 20:00','30 May 20:40','30 May 21:25','30 May 22:05','30 May 22:45','30 May 23:30','31 May 00:10','31 May 00:55','31 May 01:35','31 May 02:20','31 May 03:00','31 May 03:45','31 May 04:25','31 May 05:05'][round((datum.value+0.4)/8.44)]","labelAlign":"left","labelBaseline":"top","labelFontSize":3.2,"tickSize":1,"labelPadding":0,"labelOffset":1,"title":null}},
 "y":{"field":"v","type":"quantitative","scale":{"domain":[-1.33,1.06],"nice":false,"zero":false},
  "axis":{"orient":"right","values":[1,0,-1],"format":".4f","title":null,"grid":true,"gridDash":[1,2],"gridColor":"#909090"}},
 "y2":{"datum":0},
 "color":{"condition":{"test":"datum.v >= 0","value":"#0000FF"},"value":"#FF0000"}}},
{"data":{"values":[{"t":"Stoch -0.26911"}]},
 "mark":{"type":"text","align":"left","baseline":"middle","fontSize":3.5,"color":"#c8c8c8"},
 "encoding":{"x":{"datum":-0.4,"type":"quantitative","scale":{"domain":[-0.8,241.6],"nice":false,"zero":false},
  "axis":{"orient":"bottom","values":[-0.4,8.04,16.48,24.92,33.36,41.8,50.24,58.68,67.12,75.56,84,92.44,100.88,109.32,117.76,126.2,134.64,143.08,151.52],"labelExpr":"['30 May 2019','30 May 17:10','30 May 17:50','30 May 18:35','30 May 19:15','30 May 20:00','30 May 20:40','30 May 21:25','30 May 22:05','30 May 22:45','30 May 23:30','31 May 00:10','31 May 00:55','31 May 01:35','31 May 02:20','31 May 03:00','31 May 03:45','31 May 04:25','31 May 05:05'][round((datum.value+0.4)/8.44)]","labelAlign":"left","labelBaseline":"top","labelFontSize":3.2,"tickSize":1,"labelPadding":0,"labelOffset":1,"title":null}},
 "y":{"datum":0.92,"type":"quantitative","scale":{"domain":[-1.33,1.06],"nice":false,"zero":false},
  "axis":{"orient":"right","values":[1,0,-1],"format":".4f","title":null,"grid":true,"gridDash":[1,2],"gridColor":"#909090"}},
 "text":{"field":"t"}}}
]
}
]
}
